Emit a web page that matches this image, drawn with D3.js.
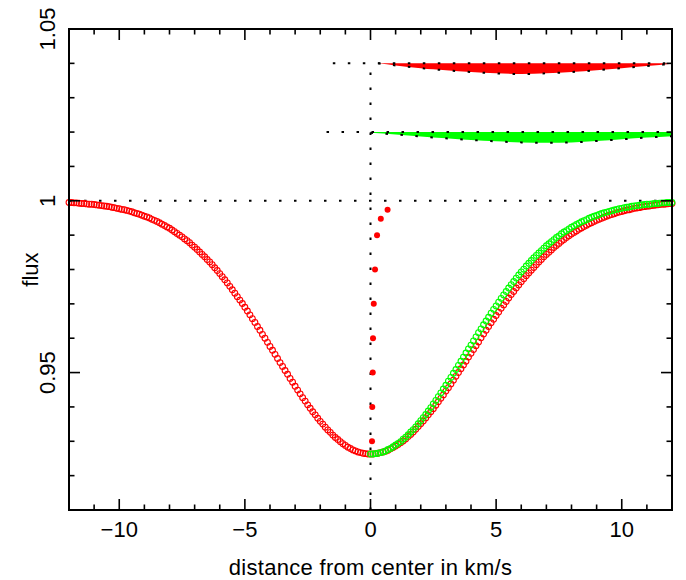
<!DOCTYPE html>
<html><head><meta charset="utf-8">
<script src="https://cdn.jsdelivr.net/npm/d3@7/dist/d3.min.js"></script>
<style>
body{margin:0;background:#fff}
svg{display:block}
text{font-family:"Liberation Sans",Arial,sans-serif;fill:#000}
</style>
</head><body>
<svg id="chart" width="686" height="580"></svg>
<script>
// ---------- data ----------
// red profile, sampled every 0.1 km/s from -12 to +12
const redStart = -12, redStep = 0.1;
const redFlux = [
0.9995,0.9995,0.9994,0.9994,0.9993,0.9992,0.9992,0.9991,0.9990,0.9990,
0.9989,0.9988,0.9987,0.9986,0.9985,0.9984,0.9983,0.9981,0.9980,0.9978,
0.9977,0.9975,0.9974,0.9972,0.9970,0.9968,0.9965,0.9963,0.9961,0.9958,
0.9955,0.9953,0.9950,0.9946,0.9943,0.9940,0.9936,0.9932,0.9928,0.9924,
0.9920,0.9915,0.9910,0.9905,0.9900,0.9895,0.9889,0.9884,0.9878,0.9871,
0.9865,0.9858,0.9851,0.9844,0.9837,0.9829,0.9822,0.9814,0.9805,0.9797,
0.9788,0.9779,0.9770,0.9761,0.9751,0.9741,0.9731,0.9721,0.9711,0.9701,
0.9690,0.9679,0.9668,0.9657,0.9646,0.9634,0.9623,0.9611,0.9600,0.9588,
0.9576,0.9565,0.9553,0.9541,0.9529,0.9518,0.9506,0.9495,0.9483,0.9472,
0.9460,0.9449,0.9438,0.9427,0.9417,0.9406,0.9396,0.9386,0.9377,0.9367,
0.9358,0.9350,0.9341,0.9333,0.9326,0.9318,0.9311,0.9305,0.9299,0.9293,
0.9288,0.9283,0.9279,0.9275,0.9272,0.9269,0.9267,0.9265,0.9264,0.9263,
0.9263,
0.9263,0.9264,0.9265,0.9267,0.9269,0.9271,0.9274,0.9278,0.9282,0.9286,
0.9291,0.9296,0.9301,0.9307,0.9314,0.9320,0.9327,0.9335,0.9343,0.9351,
0.9359,0.9368,0.9377,0.9386,0.9395,0.9405,0.9415,0.9425,0.9435,0.9446,
0.9456,0.9467,0.9478,0.9489,0.9500,0.9511,0.9522,0.9533,0.9545,0.9556,
0.9567,0.9578,0.9589,0.9601,0.9612,0.9623,0.9634,0.9645,0.9655,0.9666,
0.9676,0.9687,0.9697,0.9707,0.9717,0.9727,0.9736,0.9746,0.9755,0.9764,
0.9773,0.9782,0.9790,0.9798,0.9806,0.9814,0.9822,0.9829,0.9837,0.9844,
0.9850,0.9857,0.9864,0.9870,0.9876,0.9882,0.9887,0.9893,0.9898,0.9903,
0.9908,0.9912,0.9917,0.9921,0.9925,0.9929,0.9933,0.9936,0.9940,0.9943,
0.9946,0.9949,0.9952,0.9955,0.9958,0.9960,0.9962,0.9965,0.9967,0.9969,
0.9971,0.9973,0.9974,0.9976,0.9978,0.9979,0.9980,0.9982,0.9983,0.9984,
0.9985,0.9986,0.9987,0.9988,0.9989,0.9990,0.9990,0.9991,0.9992,0.9992
];
// green profile, sampled every 0.1 km/s from 0 to +12
const greenStart = 0, greenStep = 0.1;
const greenFlux = [
0.9263,0.9263,0.9264,0.9265,0.9267,0.9269,0.9272,0.9276,0.9279,0.9284,
0.9289,0.9294,0.9299,0.9306,0.9312,0.9319,0.9327,0.9334,0.9342,0.9351,
0.9360,0.9369,0.9378,0.9388,0.9398,0.9409,0.9419,0.9430,0.9441,0.9452,
0.9463,0.9475,0.9486,0.9498,0.9509,0.9521,0.9533,0.9545,0.9557,0.9569,
0.9580,0.9592,0.9604,0.9616,0.9627,0.9639,0.9650,0.9661,0.9673,0.9684,
0.9694,0.9705,0.9716,0.9726,0.9736,0.9746,0.9756,0.9765,0.9775,0.9784,
0.9793,0.9801,0.9810,0.9818,0.9826,0.9834,0.9841,0.9848,0.9855,0.9862,
0.9869,0.9875,0.9881,0.9887,0.9893,0.9898,0.9904,0.9909,0.9913,0.9918,
0.9923,0.9927,0.9931,0.9935,0.9939,0.9942,0.9945,0.9949,0.9952,0.9955,
0.9957,0.9960,0.9963,0.9965,0.9967,0.9969,0.9971,0.9973,0.9975,0.9977,
0.9978,0.9980,0.9981,0.9982,0.9984,0.9985,0.9986,0.9987,0.9988,0.9989,
0.9990,0.9990,0.9991,0.9992,0.9992,0.9993,0.9994,0.9994,0.9995,0.9995,
0.9995
];
// filled red points near the centre
const dotX    = [0.06, 0.07, 0.09, 0.10, 0.13, 0.18, 0.26, 0.41, 0.68];
const dotFlux = [0.930, 0.940, 0.950, 0.960, 0.970, 0.980, 0.990, 0.9948, 0.9974];
// offset bands (top level and lower edge)
const redBandLevel = 1.04;
const redBandX    = [0.3, 1, 2, 2.5, 3, 4, 5, 6, 7, 8, 9, 10, 11, 12];
const redBandLow  = [1.0400, 1.0394, 1.0386, 1.03825, 1.0380, 1.0375, 1.0371, 1.0369, 1.0371, 1.0375, 1.0380, 1.0386, 1.0392, 1.0399];
const greenBandLevel = 1.02;
const greenBandX   = [0, 1, 2, 3, 4, 5, 6, 7, 8, 9, 10, 11, 12];
const greenBandLow = [1.0198, 1.0193, 1.0187, 1.0182, 1.0177, 1.0173, 1.0170, 1.0169, 1.0170, 1.0174, 1.0179, 1.0184, 1.0188];
// dotted reference lines
const hRefY      = [1.00, 1.02, 1.04];
const hRefXStart = [-12, -1.75, -1.5];
const hRefXEnd   = [12, 12, 12];
const vRefX = 0, vRefYTop = 1.04;
// axes
const xDomain = [-12, 12], yDomain = [0.91, 1.05];
const xMajor = [-10, -5, 0, 5, 10];
const xMinor = [-12,-11,-9,-8,-7,-6,-4,-3,-2,-1,1,2,3,4,6,7,8,9,11,12];
const yMajor = [0.95, 1.00, 1.05];
const yMajorLabels = ["0.95", "1", "1.05"];
const yMinor = [0.91,0.92,0.93,0.94,0.96,0.97,0.98,0.99,1.01,1.02,1.03,1.04];
const xTitle = "distance from center in km/s";
const yTitle = "flux";

// ---------- drawing ----------
const L = 69, R = 672, T = 29, B = 510;
const svg = d3.select("#chart");
const x = d3.scaleLinear().domain(xDomain).range([L, R]);
const y = d3.scaleLinear().domain(yDomain).range([B, T]);

const redPts = redFlux.map((v, i) => [redStart + i * redStep, v]);
const greenPts = greenFlux.map((v, i) => [greenStart + i * greenStep, v]);

const plot = svg.append("g");

// bands
const bandArea = (level) => d3.area().x(d => x(d[0])).y0(y(level)).y1(d => y(d[1])).curve(d3.curveMonotoneX);
const bandLine = d3.line().x(d => x(d[0])).y(d => y(d[1])).curve(d3.curveMonotoneX);
const redBand = redBandX.map((v, i) => [v, redBandLow[i]]);
const greenBand = greenBandX.map((v, i) => [v, greenBandLow[i]]);
plot.append("path").attr("d", bandArea(redBandLevel)(redBand)).attr("fill", "#ff0000");
plot.append("path").attr("d", bandArea(greenBandLevel)(greenBand)).attr("fill", "#00ff00");

const dotted = {"stroke": "#000", "stroke-width": 2, "stroke-dasharray": "2.5,12.5", "fill": "none"};
function applyDotted(sel){ Object.entries(dotted).forEach(([k,v]) => sel.attr(k, v)); return sel; }

applyDotted(plot.append("path").attr("d", bandLine(redBand)).attr("stroke-width", 1.6));
applyDotted(plot.append("path").attr("d", bandLine(greenBand)).attr("stroke-width", 1.6));

// horizontal reference lines
hRefY.forEach((v, i) => {
  applyDotted(plot.append("line")
    .attr("x1", x(hRefXStart[i])).attr("x2", x(hRefXEnd[i]))
    .attr("y1", y(v)).attr("y2", y(v)));
});
// vertical reference line
applyDotted(plot.append("line")
  .attr("x1", x(vRefX)).attr("x2", x(vRefX))
  .attr("y1", y(yDomain[0])).attr("y2", y(vRefYTop)));

// open circles
plot.append("g").selectAll("circle").data(redPts).join("circle")
  .attr("cx", d => x(d[0])).attr("cy", d => y(d[1])).attr("r", 2.9)
  .attr("fill", "none").attr("stroke", "#ff0000").attr("stroke-width", 1.1);
plot.append("g").selectAll("circle").data(greenPts).join("circle")
  .attr("cx", d => x(d[0])).attr("cy", d => y(d[1])).attr("r", 2.9)
  .attr("fill", "none").attr("stroke", "#00ff00").attr("stroke-width", 1.1);

// filled dots
plot.append("g").selectAll("circle").data(dotX).join("circle")
  .attr("cx", d => x(d)).attr("cy", (d, i) => y(dotFlux[i])).attr("r", 3)
  .attr("fill", "#ff0000");

// frame
svg.append("rect").attr("x", L).attr("y", T).attr("width", R - L).attr("height", B - T)
  .attr("fill", "none").attr("stroke", "#000").attr("stroke-width", 2);

// ticks (inward, all four sides)
const tk = svg.append("g").attr("stroke", "#000").attr("stroke-width", 1.6);
const majLen = 11, minLen = 5.5;
function xTicks(vals, len){
  vals.forEach(v => {
    tk.append("line").attr("x1", x(v)).attr("x2", x(v)).attr("y1", B).attr("y2", B - len);
    tk.append("line").attr("x1", x(v)).attr("x2", x(v)).attr("y1", T).attr("y2", T + len);
  });
}
function yTicks(vals, len){
  vals.forEach(v => {
    tk.append("line").attr("y1", y(v)).attr("y2", y(v)).attr("x1", L).attr("x2", L + len);
    tk.append("line").attr("y1", y(v)).attr("y2", y(v)).attr("x1", R).attr("x2", R - len);
  });
}
xTicks(xMajor, majLen); xTicks(xMinor, minLen);
yTicks(yMajor, majLen); yTicks(yMinor, minLen);

// tick labels
const fmtX = d => (d < 0 ? "\u2212" + Math.abs(d) : String(d));
svg.append("g").selectAll("text").data(xMajor).join("text")
  .attr("x", d => x(d)).attr("y", 537).attr("text-anchor", "middle")
  .attr("font-size", 22).text(fmtX);
svg.append("g").selectAll("text").data(yMajor).join("text")
  .attr("transform", d => `translate(55,${y(d)}) rotate(-90)`)
  .attr("text-anchor", "middle").attr("font-size", 22)
  .text((d, i) => yMajorLabels[i]);

// axis titles
svg.append("text").attr("x", (L + R) / 2).attr("y", 575).attr("text-anchor", "middle")
  .attr("font-size", 22).attr("letter-spacing", 0.3).text(xTitle);
svg.append("text").attr("transform", `translate(38,${(T + B) / 2}) rotate(-90)`)
  .attr("text-anchor", "middle").attr("font-size", 22).text(yTitle);
</script>
</body></html>
